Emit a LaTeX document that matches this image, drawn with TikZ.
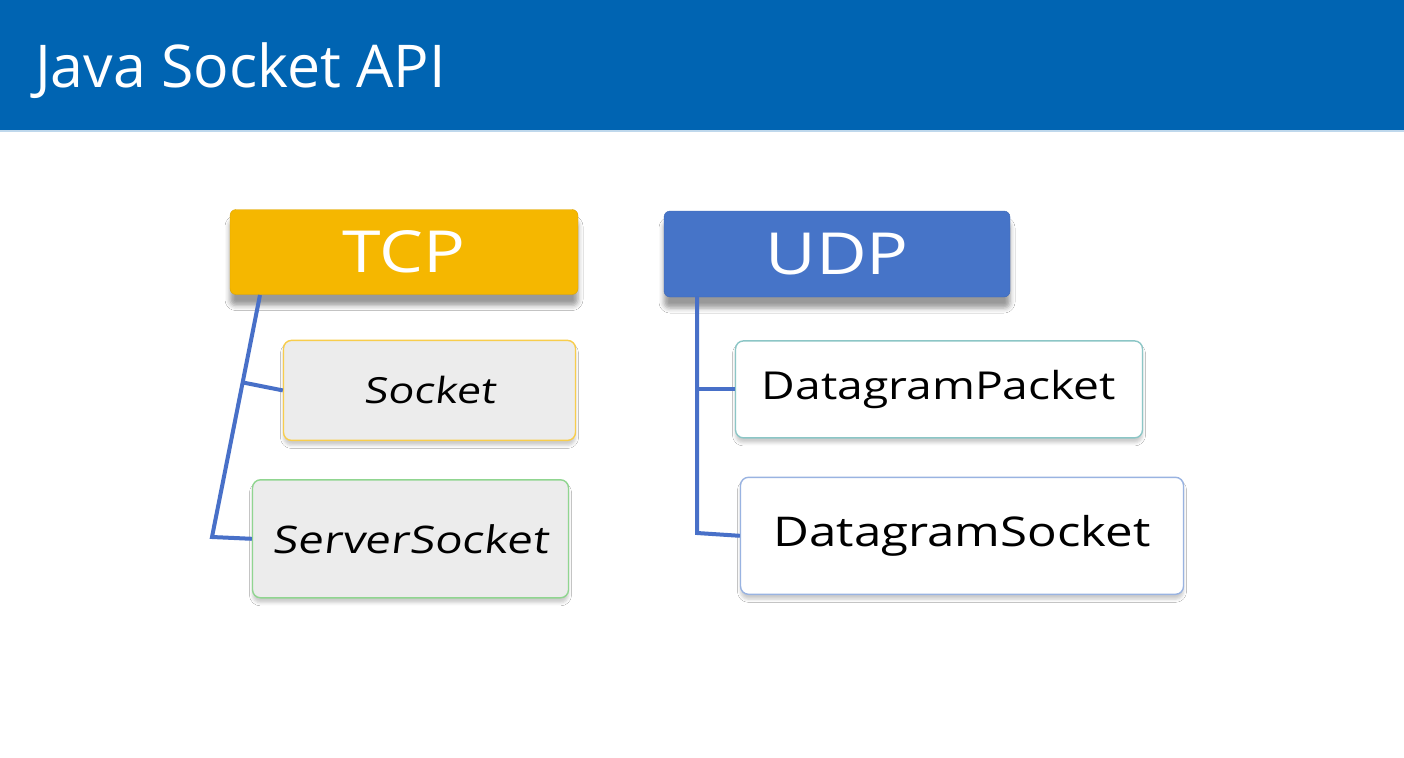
\documentclass[tikz,border=0pt]{standalone}
\usepackage{fontspec}
\setmainfont{Open Sans}
\newfontfamily\boxfont[FakeStretch=1.2]{Open Sans}
\newfontfamily\slantboxfont[FakeStretch=1.2,FakeSlant=0.12]{Open Sans}
\usetikzlibrary{positioning, calc, shadows.blur}
\definecolor{headblue}{RGB}{0,100,178}
\definecolor{tcpgold}{RGB}{245,183,0}
\definecolor{udpblue}{RGB}{70,116,200}
\definecolor{lineblue}{RGB}{72,112,200}
\definecolor{itemgray}{RGB}{236,236,236}

\begin{document}
\begin{tikzpicture}[x=1pt, y=-1pt,
    head/.style={rounded corners=6pt, inner sep=0pt, minimum width=346pt, minimum height=86pt,
        text=white, font=\boxfont\fontsize{58}{60}\selectfont,
        blur shadow={shadow xshift=0pt, shadow yshift=-11pt, shadow blur radius=5pt, shadow opacity=40}},
    item/.style={rounded corners=8pt, inner sep=0pt, line width=1.4pt, anchor=north west,
        blur shadow={shadow xshift=0pt, shadow yshift=-5pt, shadow blur radius=3pt, shadow opacity=20}},
    branch/.style={draw=lineblue, line width=4pt}]
    \useasboundingbox (0,0) rectangle (1404,757);
    \fill[white] (0,0) rectangle (1404,757);
    % title band
    \fill[headblue] (0,0) rectangle (1404,130);
    \draw[headblue!25, line width=2pt] (0,131) -- (1404,131);
    \node[anchor=base west, inner sep=0pt, text=white, font=\fontsize{59}{64}\selectfont] (title) at (35,88) {Java Socket API};
    % TCP column
    \node[head, fill=tcpgold, draw=tcpgold!90!black, minimum width=348pt, minimum height=85pt] (tcp) at (404,252) {TCP};
    \node[item, fill=itemgray, draw=tcpgold!70, minimum width=292pt, minimum height=100pt,
        font=\slantboxfont\fontsize{36}{40}\selectfont, below right=45pt and 53pt of tcp.south west] (sock) {Socket};
    \node[item, fill=itemgray, draw=green!45!gray!60, minimum width=316pt, minimum height=118pt,
        font=\slantboxfont\fontsize{38}{42}\selectfont, below right=38pt and -31pt of sock.south west] (ssock) {ServerSocket};
    % UDP column
    \node[head, fill=udpblue, draw=udpblue!90!black] (udp) at (837,254) {UDP};
    \node[item, fill=white, draw=teal!45, minimum width=407pt, minimum height=97pt,
        font=\boxfont\fontsize{38.5}{42}\selectfont, below right=43pt and 71pt of udp.south west] (dpack) {DatagramPacket};
    \node[item, fill=white, draw=udpblue!55, minimum width=443pt, minimum height=117pt,
        font=\boxfont\fontsize{41}{45}\selectfont, below right=38pt and 5pt of dpack.south west] (dsock) {DatagramSocket};
    % connectors
    \coordinate (tcptop) at (260,295);
    \coordinate (tcpbot) at (212,537);
    \draw[branch] (tcptop) -- (tcpbot) -- (ssock.west);
    \draw[branch] ($(tcptop)!(sock.west)!(tcpbot)$) -- (sock.west);
    \coordinate (udptop) at (697,297);
    \coordinate (udpbot) at (697,533);
    \draw[branch] (udptop) -- (udpbot) -- (dsock.west);
    \draw[branch] ($(udptop)!(dpack.west)!(udpbot)$) -- (dpack.west);
\end{tikzpicture}
\end{document}
